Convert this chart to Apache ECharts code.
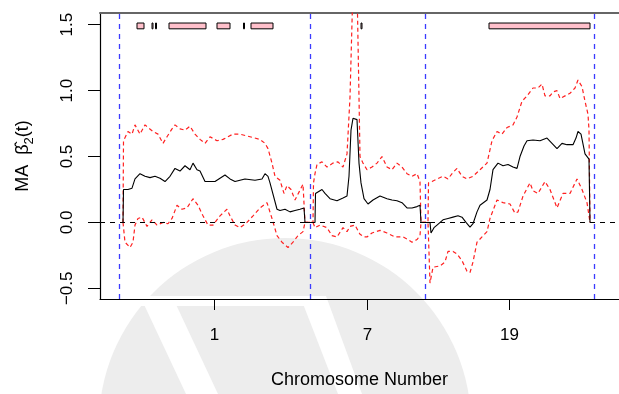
<!DOCTYPE html>
<html>
<head>
<meta charset="utf-8">
<script src="https://cdn.jsdelivr.net/npm/echarts@6/dist/echarts.min.js"></script>
<style>
  html, body { margin: 0; padding: 0; background: #fff; }
  #chart { width: 619px; height: 394px; }
</style>
</head>
<body>
<div id="chart"></div>
<script>
// chromosome boundaries (marker index) and names
const chrBounds = [0, 191, 306, 475];
const chrNames = ['1', '7', '19'];

// moving-average estimate beta2(t)
const estPos = [4, 4.5, 9, 13, 16, 21, 26, 31, 36, 41, 46, 51, 56, 61, 66, 71, 74, 78, 81, 86, 96, 106, 111, 116, 126, 136, 143, 146, 149, 151, 158, 161, 166, 171, 176, 181, 185, 186,
  196, 196.5, 198, 203, 206, 211, 218, 224, 228, 230, 232, 234, 238, 240, 242, 245, 249, 254, 261, 268, 273, 278, 283, 288, 293, 298, 301, 302,
  311, 312, 315, 318, 324, 329, 334, 339, 343, 347, 351, 354, 358, 361, 368, 371, 374, 379, 384, 389, 394, 398, 401, 405, 408, 414, 421, 428, 433, 438, 443, 448, 454, 457, 459, 462, 466, 470, 471];
const estVal = [0, 0.25, 0.25, 0.26, 0.33, 0.37, 0.35, 0.34, 0.35, 0.335, 0.31, 0.35, 0.41, 0.39, 0.43, 0.40, 0.45, 0.40, 0.39, 0.31, 0.31, 0.36, 0.33, 0.31, 0.33, 0.32, 0.33, 0.37, 0.35, 0.30, 0.10, 0.09, 0.10, 0.08, 0.09, 0.10, 0.11, 0,
  0, 0.22, 0.23, 0.25, 0.22, 0.18, 0.165, 0.185, 0.2, 0.35, 0.70, 0.79, 0.78, 0.45, 0.30, 0.18, 0.14, 0.17, 0.20, 0.18, 0.17, 0.165, 0.15, 0.11, 0.11, 0.12, 0.13, 0,
  0, -0.08, -0.04, -0.02, 0.02, 0.03, 0.04, 0.05, 0.04, 0.0, -0.035, -0.01, 0.08, 0.13, 0.17, 0.25, 0.40, 0.45, 0.43, 0.44, 0.42, 0.41, 0.50, 0.58, 0.62, 0.625, 0.62, 0.64, 0.60, 0.56, 0.60, 0.59, 0.59, 0.64, 0.69, 0.67, 0.52, 0.48, 0];

// upper band
const upPos = [4, 4.5, 9, 13, 16, 21, 26, 29, 34, 39, 44, 48, 53, 56, 61, 66, 71, 76, 81, 86, 91, 98, 104, 114, 121, 131, 141, 146, 149, 153, 156, 161, 165, 168, 172, 176, 180, 184, 186,
  194, 194.5, 196, 198, 203, 208, 214, 219, 224, 228, 231, 234, 238, 240, 241, 244, 248, 253, 258, 263, 268, 273, 278, 283, 288, 293, 298, 301, 302,
  309, 309.5, 313, 318, 324, 329, 334, 338, 343, 348, 354, 361, 368, 373, 378, 383, 388, 394, 398, 403, 408, 414, 419, 423, 426, 431, 434, 438, 441, 446, 451, 456, 459, 463, 466, 469, 470, 471];
const upVal = [0, 0.62, 0.69, 0.67, 0.74, 0.67, 0.74, 0.72, 0.69, 0.67, 0.60, 0.65, 0.71, 0.74, 0.71, 0.70, 0.73, 0.67, 0.63, 0.60, 0.65, 0.62, 0.63, 0.67, 0.67, 0.65, 0.63, 0.60, 0.56, 0.45, 0.35, 0.32, 0.22, 0.28, 0.25, 0.17, 0.23, 0.29, 0,
  0, 0.30, 0.37, 0.44, 0.46, 0.42, 0.45, 0.46, 0.42, 0.52, 0.95, 1.8, 1.8, 0.95, 0.50, 0.45, 0.40, 0.42, 0.45, 0.50, 0.42, 0.40, 0.45, 0.42, 0.37, 0.35, 0.37, 0.31, 0,
  0, 0.30, 0.31, 0.33, 0.35, 0.33, 0.38, 0.41, 0.35, 0.33, 0.35, 0.40, 0.45, 0.62, 0.69, 0.67, 0.72, 0.74, 0.80, 0.92, 0.96, 1.02, 1.02, 1.05, 0.96, 0.96, 0.99, 1.0, 0.94, 0.96, 0.98, 1.02, 1.08, 1.03, 0.92, 0.82, 0.70, 0];

// lower band
const loPos = [4, 6, 11, 14, 16, 19, 23, 28, 33, 38, 44, 49, 53, 58, 63, 68, 74, 79, 84, 89, 94, 101, 108, 111, 116, 121, 128, 134, 141, 148, 153, 158, 163, 169, 174, 179, 184, 186,
  194, 196, 201, 208, 213, 218, 224, 228, 231, 236, 241, 245, 248, 253, 261, 268, 276, 284, 289, 293, 298, 301, 302,
  309, 311, 314, 321, 326, 329, 334, 338, 343, 348, 351, 354, 358, 363, 368, 371, 378, 384, 391, 396, 399, 404, 411, 414, 419, 426, 431, 438, 444, 451, 458, 463, 468, 470, 471];
const loVal = [0, -0.15, -0.19, -0.15, -0.02, 0.03, 0.04, -0.03, 0.02, -0.02, 0.0, -0.01, 0.03, 0.13, 0.10, 0.11, 0.18, 0.13, 0.05, -0.02, -0.02, 0.05, 0.10, 0.05, -0.02, -0.04, 0.0, 0.05, 0.11, 0.15, 0.03, -0.10, -0.15, -0.19, -0.15, -0.10, -0.07, 0,
  0, -0.04, -0.02, -0.04, -0.10, -0.11, -0.04, -0.07, -0.03, -0.02, -0.09, -0.11, -0.11, -0.08, -0.06, -0.08, -0.11, -0.11, -0.13, -0.15, -0.13, -0.10, 0,
  0, -0.46, -0.34, -0.33, -0.30, -0.22, -0.22, -0.24, -0.29, -0.37, -0.38, -0.30, -0.15, -0.11, -0.07, 0.03, 0.17, 0.15, 0.14, 0.07, 0.08, 0.20, 0.30, 0.24, 0.22, 0.31, 0.25, 0.11, 0.22, 0.22, 0.33, 0.25, 0.15, 0.05, 0];

// significant regions (start, end)
const sigStart = [18, 33, 36.5, 50, 98, 124.5, 132, 242, 370];
const sigEnd = [25, 34, 37.5, 87, 111, 125.5, 154, 243, 471];

const yTicks = [-0.5, 0, 0.5, 1, 1.5];

const chart = echarts.init(document.getElementById('chart'), null, { renderer: 'canvas' });

const font = "'Liberation Sans', Arial, Helvetica, sans-serif";
const chrMid = chrNames.map((n, i) => (chrBounds[i] + chrBounds[i + 1]) / 2);
const pairs = (p, v) => p.map((x, i) => [x, v[i]]);

const option = {
  backgroundColor: '#fff',
  animation: false,
  textStyle: { fontFamily: font },
  graphic: [
    // faint watermark behind the plot
    { type: 'circle', z: -10, shape: { cx: 285, cy: 424, r: 186 }, style: { fill: '#ededed' } },
    { type: 'rect', z: -9, shape: { x: 140, y: 296, width: 186, height: 10 }, style: { fill: '#fff' } },
    { type: 'polygon', z: -9, shape: { points: [[140, 296], [172, 296], [218, 394], [186, 394]] }, style: { fill: '#fff' } },
    { type: 'polygon', z: -9, shape: { points: [[300, 296], [326, 296], [362, 394], [338, 394]] }, style: { fill: '#fff' } }
  ],
  grid: { left: 100, right: 0, top: 13, bottom: 88, containLabel: false },
  xAxis: [{
    type: 'value',
    min: -19,
    max: 500,
    name: 'Chromosome Number',
    nameLocation: 'middle',
    nameGap: 72,
    nameTextStyle: { fontSize: 18, color: '#000', fontFamily: font },
    axisLine: { show: true, onZero: false, lineStyle: { color: '#000', width: 1.2 } },
    axisTick: { show: true, length: 11, lineStyle: { color: '#000' }, customValues: chrMid },
    axisLabel: {
      show: true, fontSize: 17, color: '#000', margin: 28,
      customValues: chrMid,
      formatter: v => {
        const i = chrMid.findIndex(m => Math.abs(m - v) < 1e-6);
        return i >= 0 ? chrNames[i] : '';
      }
    },
    splitLine: { show: false }
  }, {
    type: 'value',
    position: 'top',
    min: -19,
    max: 500,
    axisLine: { show: true, onZero: false, lineStyle: { color: '#666', width: 2 } },
    axisTick: { show: false },
    axisLabel: { show: false },
    splitLine: { show: false }
  }],
  yAxis: {
    type: 'value',
    min: -0.581,
    max: 1.589,
    name: '{t|MA  β\u0302}{s|2}{t|(t)}',
    nameLocation: 'middle',
    nameRotate: 90,
    nameGap: 64,
    nameTextStyle: {
      color: '#000',
      rich: {
        t: { fontSize: 18, fontFamily: font, color: '#000', lineHeight: 26, verticalAlign: 'middle' },
        s: { fontSize: 13, fontFamily: font, color: '#000', lineHeight: 13, verticalAlign: 'bottom' }
      }
    },
    axisLine: { show: true, onZero: false, lineStyle: { color: '#000', width: 1.2 } },
    axisTick: { show: true, length: 12, lineStyle: { color: '#000' }, customValues: yTicks },
    axisLabel: {
      show: true, fontSize: 17, color: '#000', rotate: 90, margin: 24,
      customValues: yTicks,
      formatter: v => v.toFixed(1).replace('-', '\u2212')
    },
    splitLine: { show: false }
  },
  series: [
    {
      name: 'regions',
      type: 'line',
      data: [],
      silent: true,
      markArea: {
        silent: true,
        itemStyle: { color: '#ffc0cb', borderColor: '#000', borderWidth: 1 },
        data: sigStart.map((s, i) => [{ coord: [s, 1.513] }, { coord: [sigEnd[i], 1.469] }])
      },
      markLine: {
        silent: true,
        symbol: 'none',
        label: { show: false },
        data: [
          ...chrBounds.map(b => ({ xAxis: b, lineStyle: { color: '#3b3bff', type: [5, 5], width: 1.3 } })),
          { yAxis: 0, lineStyle: { color: '#000', type: [5, 5], width: 1 } }
        ]
      }
    },
    {
      name: 'upper',
      type: 'line',
      data: pairs(upPos, upVal),
      showSymbol: false,
      silent: true,
      lineStyle: { color: '#ff2020', width: 1.2, type: [4, 3] }
    },
    {
      name: 'lower',
      type: 'line',
      data: pairs(loPos, loVal),
      showSymbol: false,
      silent: true,
      lineStyle: { color: '#ff2020', width: 1.2, type: [4, 3] }
    },
    {
      name: 'estimate',
      type: 'line',
      data: pairs(estPos, estVal),
      showSymbol: false,
      silent: true,
      lineStyle: { color: '#000', width: 1.1 }
    }
  ]
};

chart.setOption(option);
</script>
</body>
</html>
